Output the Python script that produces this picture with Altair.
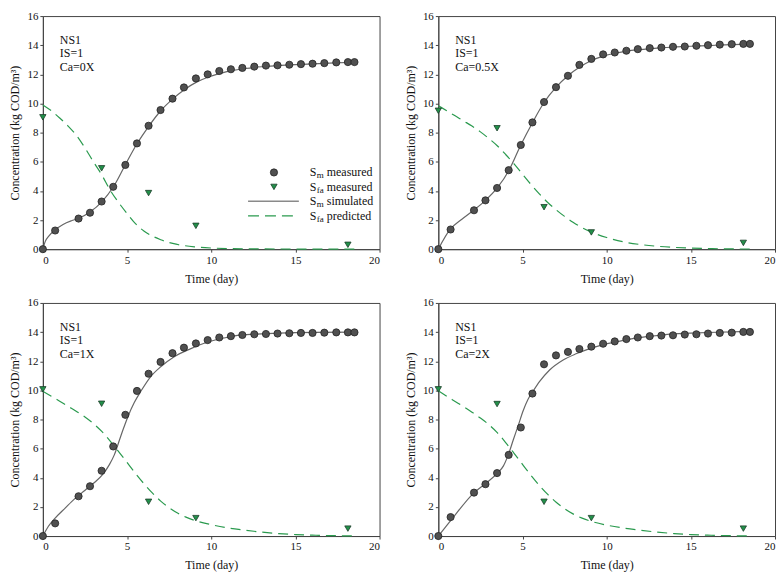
import altair as alt
import pandas as pd

# ---------------- data ----------------
t_meas = [0, 0.73, 2.12, 2.80, 3.49, 4.18, 4.90, 5.59, 6.28, 6.99, 7.70, 8.38, 9.09,
          9.79, 10.48, 11.17, 11.85, 12.56, 13.25, 13.94, 14.64, 15.33, 16.02, 16.72,
          17.43, 18.12, 18.51]
t_fa = [0, 3.49, 6.28, 9.09, 18.12]

# Panel Ca=0X
sm_0 = [0, 1.28, 2.1, 2.5, 3.27, 4.28, 5.78, 7.26, 8.47, 9.55, 10.33, 11.1, 11.72, 12.0,
        12.23, 12.35, 12.44, 12.53, 12.6, 12.62, 12.66, 12.7, 12.73, 12.77, 12.82, 12.84, 12.84]
fa_0 = [9.05, 5.55, 3.85, 1.6, 0.3]
sim_t_0 = [0, 0.15, 0.35, 0.7, 1.2, 1.7, 2.1, 2.8, 3.5, 4.2, 4.9, 5.6, 6.3, 7.0, 7.7, 8.4,
           9.1, 9.8, 10.5, 11.2, 12, 13, 14, 15, 16, 17, 18.5]
sim_y_0 = [0, 0.55, 0.9, 1.3, 1.7, 1.95, 2.1, 2.55, 3.25, 4.3, 5.8, 7.25, 8.45, 9.5, 10.3,
           10.95, 11.45, 11.8, 12.05, 12.25, 12.4, 12.52, 12.6, 12.67, 12.72, 12.77, 12.83]
pred_t_0 = [0, 0.5, 1, 1.5, 2, 2.5, 3, 3.5, 4, 4.5, 5, 5.5, 6, 6.5, 7, 7.5, 8, 9, 10, 11,
            12, 14, 16, 18.5]
pred_y_0 = [9.9, 9.5, 9.0, 8.45, 7.8, 6.95, 6.0, 5.1, 4.05, 3.2, 2.45, 1.75, 1.25, 0.9,
            0.65, 0.45, 0.32, 0.16, 0.08, 0.04, 0.02, 0.01, 0.0, 0.0]

# Panel Ca=0.5X
sm_05 = [0, 1.35, 2.67, 3.35, 4.2, 5.42, 7.15, 8.7, 10.1, 11.12, 11.9, 12.65, 13.06, 13.37,
         13.5, 13.62, 13.73, 13.8, 13.84, 13.89, 13.91, 13.96, 14.0, 14.04, 14.07, 14.09, 14.09]
fa_05 = [9.5, 8.3, 2.88, 1.15, 0.43]
sim_t_05 = [0, 0.7, 1.4, 2.1, 2.8, 3.5, 4.2, 4.9, 5.6, 6.3, 7.0, 7.7, 8.4, 9.1, 9.8, 10.5,
            11.2, 12, 13, 14, 15, 16, 17, 18.5]
sim_y_05 = [0, 1.35, 2.05, 2.67, 3.35, 4.2, 5.42, 7.15, 8.7, 10.1, 11.12, 11.9, 12.5, 12.95,
            13.25, 13.45, 13.6, 13.7, 13.8, 13.87, 13.93, 13.97, 14.02, 14.08]
pred_t_05 = [0, 0.5, 1, 1.5, 2, 2.5, 3, 3.5, 4, 4.5, 5, 5.5, 6, 6.5, 7, 7.5, 8, 8.5, 9, 10,
             11, 12, 13, 14, 15, 16, 17, 18.5]
pred_y_05 = [9.85, 9.5, 9.15, 8.8, 8.45, 8.05, 7.6, 7.1, 6.5, 5.85, 5.15, 4.45, 3.8, 3.2,
             2.7, 2.25, 1.85, 1.5, 1.22, 0.8, 0.5, 0.32, 0.2, 0.12, 0.07, 0.04, 0.02, 0.01]

# Panel Ca=1X
sm_1 = [0, 0.87, 2.73, 3.42, 4.48, 6.15, 8.32, 9.96, 11.14, 11.95, 12.55, 12.93, 13.22,
        13.45, 13.63, 13.72, 13.8, 13.85, 13.87, 13.9, 13.92, 13.94, 13.94, 13.96, 13.98,
        13.98, 13.98]
fa_1 = [10.07, 9.08, 2.35, 1.23, 0.51]
sim_t_1 = [0, 0.33, 0.73, 1.31, 1.9, 2.49, 3.08, 3.57, 3.96, 4.25, 4.55, 4.75, 5.04, 5.43,
           5.82, 6.41, 7.0, 7.78, 8.76, 9.75, 10.92, 11.7, 13, 14, 15, 16, 18.5]
sim_y_1 = [0, 0.67, 1.23, 1.9, 2.57, 3.13, 3.69, 4.25, 4.92, 5.59, 6.59, 7.26, 8.16, 9.16,
           9.94, 10.95, 11.62, 12.29, 12.85, 13.3, 13.63, 13.79, 13.88, 13.93, 13.96, 13.98, 14.0]
pred_t_1 = [0, 0.5, 1, 1.5, 2, 2.5, 3, 3.5, 4, 4.5, 5, 5.5, 6, 6.5, 7, 7.5, 8, 8.5, 9, 10,
            11, 12, 13, 14, 15, 16, 17, 18.5]
pred_y_1 = [9.94, 9.6, 9.25, 8.9, 8.55, 8.17, 7.72, 7.18, 6.52, 5.8, 5.05, 4.3, 3.6, 2.96,
            2.4, 1.95, 1.58, 1.3, 1.08, 0.78, 0.55, 0.4, 0.27, 0.17, 0.1, 0.06, 0.03, 0.01]

# Panel Ca=2X
sm_2 = [0, 1.3, 2.98, 3.56, 4.32, 5.57, 7.45, 9.78, 11.79, 12.4, 12.64, 12.84, 13.0, 13.2,
        13.36, 13.52, 13.63, 13.72, 13.76, 13.78, 13.83, 13.85, 13.9, 13.94, 13.96, 14.01, 14.01]
fa_2 = [10.07, 9.06, 2.35, 1.23, 0.51]
sim_t_2 = [0, 0.73, 2.1, 2.8, 3.5, 3.86, 4.16, 4.45, 4.75, 5.04, 5.33, 5.63, 6.02, 6.61,
           7.39, 8.18, 8.96, 9.75, 10.92, 11.7, 12.5, 14, 16, 18.5]
sim_y_2 = [0, 1.05, 2.95, 3.6, 4.3, 4.8, 5.59, 6.59, 7.6, 8.6, 9.39, 9.94, 10.61, 11.4,
           12.07, 12.51, 12.85, 13.12, 13.41, 13.59, 13.7, 13.88, 13.97, 14.05]
pred_t_2 = [0, 0.5, 1, 1.5, 2, 2.5, 3, 3.5, 4, 4.5, 5, 5.5, 6, 6.5, 7, 7.5, 8, 8.5, 9, 10,
            11, 12, 13, 14, 15, 16, 17, 18.5]
pred_y_2 = [9.97, 9.6, 9.24, 8.88, 8.5, 8.1, 7.65, 7.1, 6.42, 5.68, 4.92, 4.17, 3.48, 2.86,
            2.32, 1.88, 1.52, 1.25, 1.04, 0.75, 0.55, 0.4, 0.27, 0.17, 0.1, 0.06, 0.03, 0.01]

ca_labels = ["Ca=0X", "Ca=0.5X", "Ca=1X", "Ca=2X"]
legend_main = ["S", "S", "S", "S"]
legend_sub = ["m", "fa", "m", "fa"]
legend_rest = ["measured", "measured", "simulated", "predicted"]

# ---------------- style ----------------
FONT = "Liberation Serif"
GRAY_DOT = "#505050"
GRAY_EDGE = "#222222"
GRAY_LINE = "#666666"
GREEN = "#2a9a4e"
GREEN_TRI = "#22914a"
GREEN_EDGE = "#1c3d2a"
W, H = 338, 234

xs = alt.Scale(domain=[0, 20], nice=False)
ys = alt.Scale(domain=[0, 16], nice=False)
xax = alt.Axis(title="Time (day)", values=[0, 5, 10, 15, 20], format="d")
yax = alt.Axis(title="Concentration (kg COD/m³)", values=list(range(0, 17, 2)), format="d")


def X():
    return alt.X("t:Q", scale=xs, axis=xax)


def Y():
    return alt.Y("c:Q", scale=ys, axis=yax)


def text_layer(txt, x, y, size=12, dy=0):
    return alt.Chart(pd.DataFrame({"s": [txt]})).mark_text(
        font=FONT, fontSize=size, align="left", baseline="middle", color="#111", dy=dy
    ).encode(x=alt.value(x), y=alt.value(y), text="s:N")


def panel(sm, fa, sim_t, sim_y, pred_t, pred_y, ca, legend=False):
    pred = alt.Chart(pd.DataFrame({"t": pred_t, "c": pred_y})).mark_line(
        color=GREEN, strokeDash=[10, 6], strokeWidth=1.2, interpolate="monotone"
    ).encode(x=X(), y=Y())
    sim = alt.Chart(pd.DataFrame({"t": sim_t, "c": sim_y})).mark_line(
        color=GRAY_LINE, strokeWidth=1.2, interpolate="monotone"
    ).encode(x=X(), y=Y())
    dots = alt.Chart(pd.DataFrame({"t": t_meas, "c": sm})).mark_point(
        shape="circle", filled=True, size=52, fill=GRAY_DOT, stroke=GRAY_EDGE,
        strokeWidth=0.8, opacity=1
    ).encode(x=X(), y=Y())
    tri = alt.Chart(pd.DataFrame({"t": t_fa, "c": fa})).mark_point(
        shape="triangle-down", filled=True, size=40, fill=GREEN_TRI, stroke=GREEN_EDGE,
        strokeWidth=0.8, opacity=1
    ).encode(x=X(), y=Y())
    layers = [pred, sim, dots, tri]
    for i, s in enumerate(["NS1", "IS=1", ca]):
        layers.append(text_layer(s, 17, 24 + i * 13.5))
    if legend:
        one = pd.DataFrame({"k": [0]})
        ly = [157, 171.5, 186, 200.5]
        # symbols
        layers.append(alt.Chart(one).mark_point(
            shape="circle", filled=True, size=52, fill=GRAY_DOT, stroke=GRAY_EDGE,
            strokeWidth=0.8, opacity=1).encode(x=alt.value(232), y=alt.value(ly[0])))
        layers.append(alt.Chart(one).mark_point(
            shape="triangle-down", filled=True, size=40, fill=GREEN_TRI, stroke=GREEN_EDGE,
            strokeWidth=0.8, opacity=1).encode(x=alt.value(232), y=alt.value(ly[1])))
        layers.append(alt.Chart(one).mark_rule(color="#8a8a8a", strokeWidth=1.5).encode(
            x=alt.value(206), x2=alt.value(257), y=alt.value(ly[2])))
        layers.append(alt.Chart(one).mark_rule(color=GREEN, strokeWidth=1.3,
                                               strokeDash=[11, 6]).encode(
            x=alt.value(206), x2=alt.value(257), y=alt.value(ly[3])))
        for i in range(4):
            layers.append(text_layer(legend_main[i], 268, ly[i], size=12))
            layers.append(text_layer(legend_sub[i], 275, ly[i], size=9, dy=3))
            layers.append(text_layer(legend_rest[i], 285, ly[i], size=12))
    return alt.layer(*layers).properties(width=W, height=H)


p1 = panel(sm_0, fa_0, sim_t_0, sim_y_0, pred_t_0, pred_y_0, ca_labels[0], legend=True)
p2 = panel(sm_05, fa_05, sim_t_05, sim_y_05, pred_t_05, pred_y_05, ca_labels[1])
p3 = panel(sm_1, fa_1, sim_t_1, sim_y_1, pred_t_1, pred_y_1, ca_labels[2])
p4 = panel(sm_2, fa_2, sim_t_2, sim_y_2, pred_t_2, pred_y_2, ca_labels[3])

chart = alt.concat(p1, p2, p3, p4, columns=2, spacing={"row": 54, "column": 59},
                   bounds="flush").properties(padding=0).configure_axis(
    labelFont=FONT, titleFont=FONT, labelFontSize=11, titleFontSize=12,
    titleFontWeight="normal", grid=False, tickSize=3, labelPadding=2, titlePadding=5,
    domainColor="#444", tickColor="#444", labelColor="#111", titleColor="#111"
).configure_axisX(titlePadding=8).configure_view(stroke="#444", strokeWidth=1)

chart.save("out.html", embed_options={"renderer": "svg", "actions": False})
